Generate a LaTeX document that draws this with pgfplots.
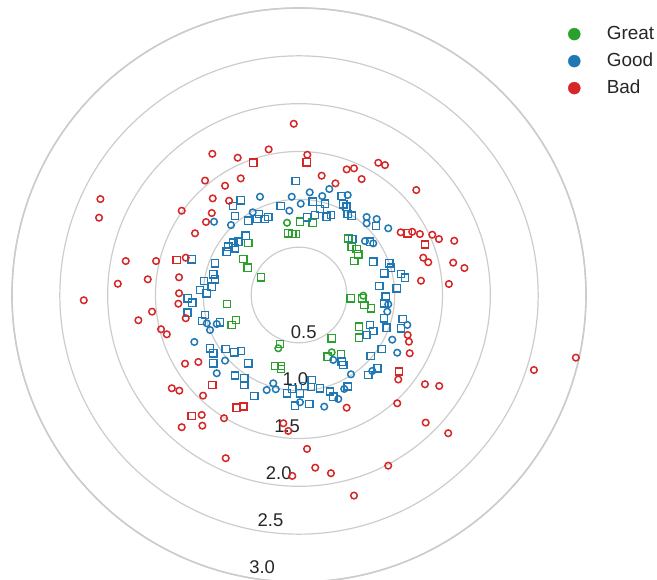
\documentclass[border=0pt]{standalone}
\usepackage{fontspec}
\setmainfont{Liberation Sans}
\usepackage{pgfplots}
\pgfplotsset{compat=1.18}
\usepgfplotslibrary{polar}
\definecolor{cgreat}{HTML}{2CA02C}
\definecolor{cgood}{HTML}{1F77B4}
\definecolor{cbad}{HTML}{D62728}
\definecolor{cgrid}{HTML}{CCCCCC}
\definecolor{ctext}{HTML}{262626}
\pgfplotsset{
  sq/.style={only marks, mark=square, mark size=3.6bp, data cs=cart, forget plot,
    color=#1, mark options={draw=#1, fill=none, line width=1.5bp, solid}},
  ci/.style={only marks, mark=o, mark size=3.3bp, data cs=cart, forget plot,
    color=#1, mark options={draw=#1, fill=none, line width=1.5bp, solid}},
}
\begin{document}
\begin{tikzpicture}
\begin{polaraxis}[
  scale only axis, width=574bp, height=574bp,
  ymin=0, ymax=3,
  xtick=\empty,
  ytick={0.5,1,1.5,2,2.5,3},
  yticklabels=\empty,
  ymajorgrids=true,
  major tick length=0pt,
  grid style={color=cgrid, line width=1.2bp},
  axis line style={color=cgrid, line width=1.6bp},
  y axis line style={draw=none},
  legend style={draw=none, fill=none, at={(0.9685,0.974)}, anchor=north west,
    font=\fontsize{19}{23}\selectfont, text=ctext, inner sep=0pt,
    nodes={text height=14bp, text depth=4bp, inner sep=2bp}, row sep=5bp},
  legend cell align=left,
  legend image code/.code={\fill[#1] (6bp,0bp) circle (6bp); \path[draw=none,fill=none] (0bp,0bp) -- (36.5bp,0bp);},
]
\coordinate (c) at (axis cs:0,0);
% Great
\addplot[sq=cgreat] coordinates {
(0.010,0.766) (0.143,0.755) (-0.112,0.645) (-0.070,0.637) (-0.034,0.637) (-0.530,0.543) (-0.582,0.376) (-0.536,0.285) (-0.397,0.185) (-0.752,-0.094) (-0.658,-0.261) (-0.703,-0.313) (-0.199,-0.512) (-0.251,-0.742) (-0.188,-0.742) (-0.188,-0.773) (0.342,-0.452) (0.300,-0.645) (0.515,0.592) (0.551,0.505) (0.603,0.481) (0.620,0.425) (0.578,0.355) (0.540,-0.034) (0.661,-0.034) (0.682,-0.104) (0.752,-0.139) (0.627,-0.331) (0.627,-0.446) (0.439,-0.617)
};
\addplot[ci=cgreat] coordinates {
(-0.125,0.755) (0.672,-0.007) (-0.216,-0.557) (0.342,-0.599)
};
% Good
\addplot[sq=cgood] coordinates {
(-0.034,1.191) (-0.609,0.990) (-0.690,0.930) (0.143,0.975) (0.272,0.954) (-0.191,0.930) (0.219,0.899) (-0.418,0.846) (-0.669,0.825) (-0.321,0.815) (-0.355,0.794) (-0.442,0.794) (-0.530,0.776) (0.084,0.812) (0.167,0.836) (0.289,0.818) (0.334,0.836) (-0.557,0.620) (-0.634,0.557) (-0.687,0.547) (0.446,1.034) (0.463,0.948) (0.498,0.923) (0.509,0.846) (0.551,0.829) (0.805,0.721) (0.557,0.585) (0.742,0.557) (-1.121,0.373) (-1.163,-0.034) (-1.115,-0.080) (-1.167,-0.185) (-0.993,0.146) (-1.034,0.052) (-0.964,0.018) (-0.912,0.087) (-0.982,-0.209) (-1.014,-0.272) (-0.755,0.452) (-0.669,0.488) (-0.739,0.505) (-0.878,0.331) (-0.896,0.216) (-0.878,0.164) (-0.826,-0.285) (-0.930,-0.557) (-0.896,-0.609) (-0.766,-0.564) (-0.676,-0.599) (-0.606,-0.585) (-0.896,-0.714) (-0.530,-0.714) (0.776,0.348) (0.944,0.331) (0.961,0.285) (0.891,0.227) (1.066,0.219) (1.108,0.181) (0.839,0.094) (1.021,0.070) (0.906,-0.018) (0.891,-0.087) (0.888,-0.243) (1.084,-0.251) (0.742,-0.313) (1.066,-0.348) (0.916,-0.342) (0.707,-0.418) (0.776,-0.376) (0.864,-0.564) (0.749,-0.637) (0.446,-0.697) (0.463,-0.731) (0.822,-0.766) (-0.669,-0.843) (-0.572,-0.870) (-0.572,-0.940) (-0.467,-1.055) (-0.070,-0.982) (-0.125,-1.027) (0.010,-1.027) (0.063,-0.951) (0.133,-0.888) (0.125,-0.961) (0.219,-0.975) (0.324,-1.010) (0.358,-1.063) (-0.042,-1.157) (0.108,-1.139) (0.509,-0.958) (0.724,-0.836)
};
\addplot[ci=cgood] coordinates {
(0.317,1.108) (0.112,1.073) (-0.076,1.027) (0.243,1.034) (-0.408,1.027) (0.018,0.954) (-0.101,0.881) (-0.484,0.864) (-0.888,0.766) (-0.711,0.731) (0.509,1.045) (0.707,0.815) (0.812,0.794) (0.707,0.749) (0.933,0.697) (0.690,0.564) (0.776,0.540) (-1.094,-0.491) (-0.964,-0.296) (-0.860,-0.303) (-0.930,-0.366) (-0.773,-0.686) (-0.860,-0.818) (0.358,-0.679) (0.933,-0.097) (0.923,-0.174) (1.132,-0.313) (0.975,-0.467) (1.027,-0.603) (0.766,-0.794) (0.543,-0.829) (-0.269,-0.923) (-0.338,-0.993) (-0.243,-0.985) (0.010,-1.121) (0.264,-1.167) (0.411,-1.087) (0.473,-0.982)
};
% Bad
\addplot[sq=cbad] coordinates {
(-0.478,1.382) (0.080,1.387) (1.136,0.645) (1.317,0.528) (-1.278,0.366) (1.045,-0.801) (-1.121,-1.264) (-0.906,-0.940) (-0.651,-1.178) (-0.582,-1.167)
};
\addplot[ci=cbad] coordinates {
(-2.076,1.003) (-2.090,0.808) (-1.226,0.881) (-0.982,1.196) (-0.972,0.763) (-1.087,0.645) (-0.055,1.790) (-0.906,1.476) (-0.641,1.435) (-0.317,1.522) (0.087,1.466) (0.237,1.247) (0.381,1.167) (-0.609,1.219) (-0.773,1.142) (-0.902,1.010) (-0.731,0.985) (-0.912,0.857) (0.829,1.382) (0.899,1.358) (0.498,1.313) (0.575,1.324) (0.655,1.212) (1.226,1.097) (1.063,0.655) (1.184,0.661) (1.264,0.637) (1.393,0.630) (1.463,0.585) (1.623,0.567) (-2.250,-0.055) (-1.811,0.355) (-1.494,0.355) (-1.184,0.390) (-1.894,0.118) (-1.581,0.164) (-1.254,0.185) (-1.254,0.018) (-1.261,-0.091) (-1.184,-0.243) (-1.536,-0.174) (-1.679,-0.264) (-1.442,-0.358) (-1.382,-0.411) (-1.191,-0.718) (-1.052,-0.700) (1.299,0.390) (1.351,0.342) (1.612,0.338) (1.729,0.282) (1.275,0.149) (1.567,0.115) (1.136,-0.418) (1.149,-0.488) (1.157,-0.609) (2.894,-0.655) (2.456,-0.784) (-1.330,-0.975) (-1.251,-1.000) (-1.003,-1.052) (-1.017,-1.254) (-1.226,-1.382) (-1.010,-1.366) (-0.784,-1.288) (-0.164,-1.341) (-0.112,-1.421) (-0.766,-1.706) (0.084,-1.609) (0.170,-1.805) (-0.070,-1.891) (0.334,-1.863) (0.498,-1.178) (1.038,-0.883) (1.317,-0.933) (1.466,-0.951) (1.027,-1.132) (1.324,-1.334) (1.560,-1.445) (0.933,-1.784) (0.575,-2.097)
};
\addlegendimage{color=cgreat}\addlegendentry{Great}
\addlegendimage{color=cgood}\addlegendentry{Good}
\addlegendimage{color=cbad}\addlegendentry{Bad}
\pgfplotsinvokeforeach{0.5,1.0,1.5,2.0,2.5,3.0}{
  \node[text=ctext, font=\fontsize{18.5}{22}\selectfont, xshift=13bp, yshift=10bp] at (axis cs:260,#1) {#1};
}
\end{polaraxis}
\pgfresetboundingbox
\path (c) ++(-299bp,-285bp) rectangle ++(657bp,580bp);
\end{tikzpicture}
\end{document}
